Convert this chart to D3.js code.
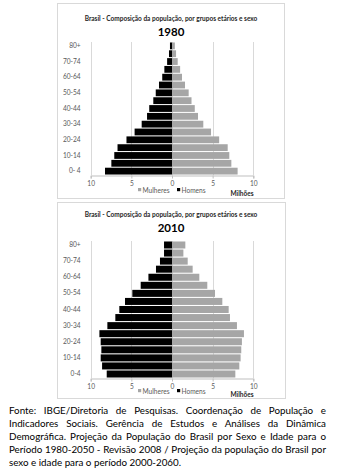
<!DOCTYPE html>
<html><head><meta charset="utf-8">
<script src="https://cdn.jsdelivr.net/npm/d3@7"></script>
<style>
body{margin:0;background:#fff;width:352px;height:472px;overflow:hidden;font-family:Lato,"Open Sans",sans-serif;}
#note{position:absolute;left:9px;top:404px;width:317px;font-size:9.8px;line-height:13px;color:#000;}
#note div{white-space:nowrap;text-align:justify;text-align-last:justify;}
#note div.last{text-align-last:left;}
</style></head>
<body>
<svg id="chart" width="352" height="400" style="position:absolute;left:0;top:0"></svg>
<div id="note"></div>
<script>
const ageGroups = ["0- 4","5-9","10-14","15-19","20-24","25-29","30-34","35-39","40-44","45-49","50-54","55-59","60-64","65-69","70-74","75-79","80+"];
const labels1980 = ["0- 4","10-14","20-24","30-34","40-44","50-54","60-64","70-74","80+"];
const labels2010 = ["0-4","10-14","20-24","30-34","40-44","50-54","60-64","70-74","80+"];
const men1980   = [8.24,7.46,7.1,6.7,5.6,4.6,3.73,3.07,2.8,2.3,2.0,1.6,1.2,0.94,0.6,0.37,0.25];
const women1980 = [8.07,7.3,7.05,6.85,5.8,4.8,3.85,3.2,2.8,2.4,2.05,1.6,1.23,1.0,0.7,0.5,0.35];
const men2010   = [8.03,8.6,8.77,8.69,8.77,8.93,7.95,6.97,6.48,5.78,4.88,3.85,2.9,1.97,1.48,0.98,0.98];
const women2010 = [7.79,8.28,8.44,8.52,8.6,8.85,7.99,7.13,6.97,6.19,5.29,4.34,3.36,2.54,1.93,1.4,1.64];
const xTicks = [-10,-5,0,5,10];
const titleText = "Brasil - Composição da população, por grupos etários e sexo";
const years = ["1980","2010"];
const legendItems = [{name:"Mulheres",color:"#a6a6a6"},{name:"Homens",color:"#000000"}];
const noteLines = [
 "Fonte: IBGE/Diretoria de Pesquisas. Coordenação de População e",
 "Indicadores Sociais. Gerência de Estudos e Análises da Dinâmica",
 "Demográfica. Projeção da População do Brasil por Sexo e Idade para o",
 "Período 1980-2050 - Revisão 2008 / Projeção da população do Brasil por",
 "sexo e idade para o período 2000-2060."
];

const svg = d3.select("#chart");
const FONT = "Lato, 'Open Sans', sans-serif";

function pyramid(cfg){
  const g = svg.append("g");
  g.append("rect").attr("x",cfg.box[0]+0.5).attr("y",cfg.box[1]+0.5)
    .attr("width",cfg.box[2]).attr("height",cfg.box[3])
    .attr("fill","#fff").attr("stroke","#d9d9d9").attr("stroke-width",1);
  const x = d3.scaleLinear().domain([-10,10]).range([90.7,253.3]);
  const y = d3.scaleBand().domain(ageGroups).range([cfg.yBottom,cfg.yTop]).paddingInner(0.13).paddingOuter(0.06);
  g.append("text").attr("x",171).attr("y",cfg.titleY).attr("text-anchor","middle")
    .attr("font-family",FONT).attr("font-weight","bold").attr("font-size",6.5).attr("fill","#262626").text(titleText);
  g.append("text").attr("x",171).attr("y",cfg.yearY).attr("text-anchor","middle")
    .attr("font-family",FONT).attr("font-weight","bold").attr("font-size",11.5).attr("fill","#000").text(cfg.year);
  g.selectAll("line.grid").data(xTicks).join("line").attr("class","grid")
    .attr("x1",d=>Math.round(x(d))+0.5).attr("x2",d=>Math.round(x(d))+0.5)
    .attr("y1",cfg.yTop).attr("y2",cfg.yBottom)
    .attr("stroke","#d9d9d9").attr("stroke-width",1);
  g.selectAll("rect.m").data(ageGroups).join("rect").attr("class","m")
    .attr("x",(d,i)=>x(-cfg.men[i])).attr("width",(d,i)=>x(0)-x(-cfg.men[i]))
    .attr("y",d=>y(d)).attr("height",y.bandwidth()).attr("fill","#000");
  g.selectAll("rect.w").data(ageGroups).join("rect").attr("class","w")
    .attr("x",x(0)).attr("width",(d,i)=>x(cfg.women[i])-x(0))
    .attr("y",d=>y(d)).attr("height",y.bandwidth()).attr("fill","#a6a6a6");
  const xa = g.append("g").attr("transform",`translate(0,${cfg.yBottom+0.5})`)
    .call(d3.axisBottom(x).tickValues(xTicks).tickFormat(d=>Math.abs(d)).tickSize(3).tickPadding(3));
  xa.select(".domain").attr("stroke","#bfbfbf");
  xa.selectAll(".tick line").attr("stroke","#bfbfbf");
  xa.selectAll("text").attr("font-family",FONT).attr("font-size",6.6).attr("fill","#595959");
  const ya = g.append("g").attr("transform",`translate(${x(-10)-4},0)`)
    .call(d3.axisLeft(y).tickValues(ageGroups.filter((d,i)=>i%2===0)).tickFormat((d,i)=>cfg.labels[i]).tickSize(0).tickPadding(6));
  ya.select(".domain").remove();
  ya.selectAll("text").attr("font-family",FONT).attr("font-size",6.6).attr("fill","#595959");
  const lg = g.append("g").attr("transform",`translate(0,${cfg.legendY})`);
  const lx = [138,177];
  legendItems.forEach((it,i)=>{
    lg.append("rect").attr("x",lx[i]).attr("y",-3).attr("width",3.2).attr("height",3.2).attr("fill",it.color);
    lg.append("text").attr("x",lx[i]+4.5).attr("y",1.8).attr("font-family",FONT).attr("font-size",6.6)
      .attr("fill","#595959").text(it.name);
  });
  g.append("text").attr("x",242).attr("y",cfg.legendY+4.5).attr("text-anchor","middle")
    .attr("font-family",FONT).attr("font-weight","bold").attr("font-size",6.5).attr("fill","#262626").text("Milhões");
}

pyramid({box:[57,3,227,195],titleY:21,yearY:36,yTop:42,yBottom:175,year:years[0],men:men1980,women:women1980,labels:labels1980,legendY:191});
pyramid({box:[57,202,228,196],titleY:217,yearY:232,yTop:241,yBottom:378,year:years[1],men:men2010,women:women2010,labels:labels2010,legendY:392});

d3.select("#note").selectAll("div").data(noteLines).join("div")
  .attr("class",(d,i)=>i===noteLines.length-1?"last":null).text(d=>d);
</script>
</body></html>
